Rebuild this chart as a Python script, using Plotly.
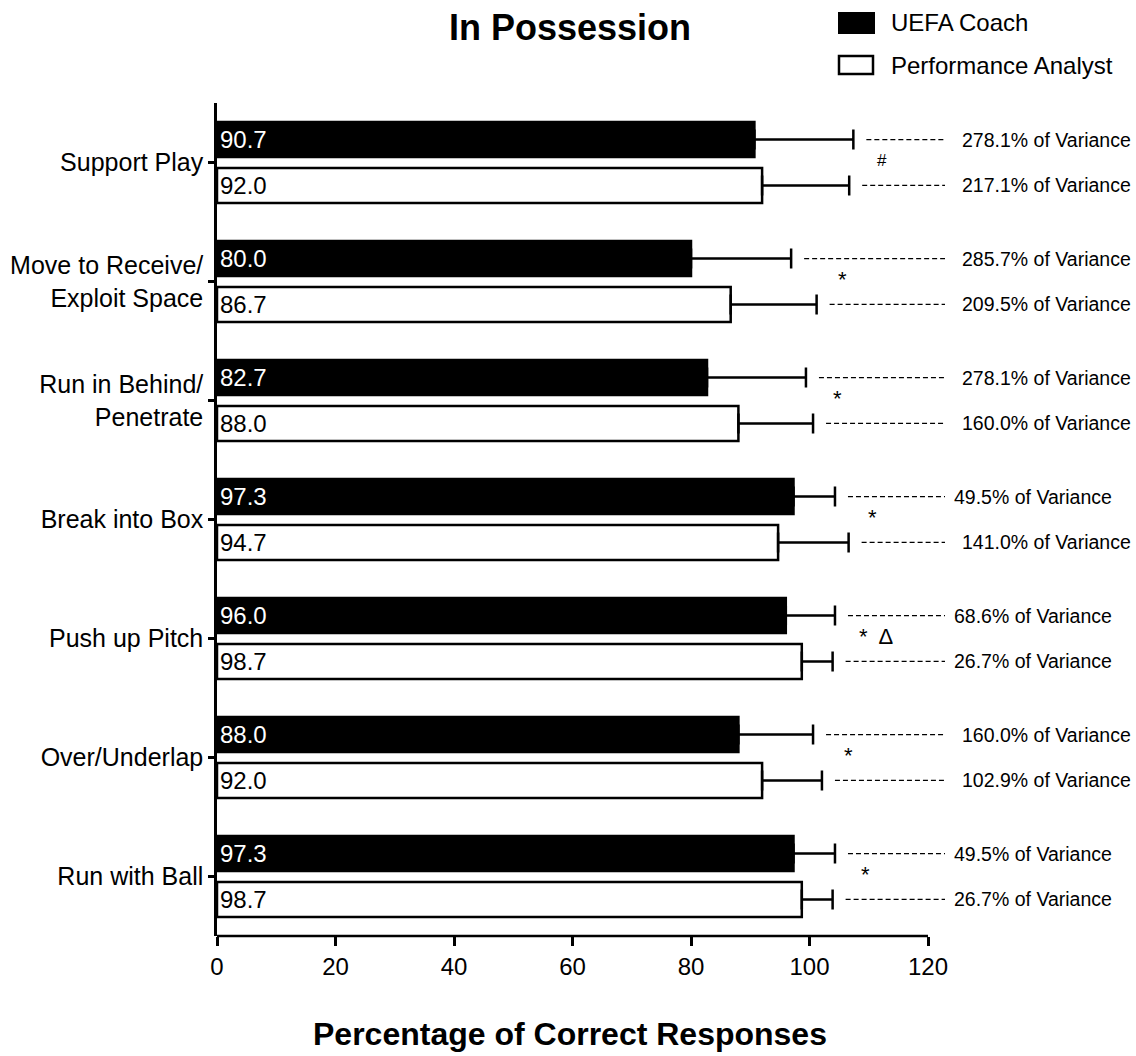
import plotly.graph_objects as go

# ---- data ----
categories = ["Support Play", "Move to Receive/<br>Exploit Space", "Run in Behind/<br>Penetrate",
              "Break into Box", "Push up Pitch", "Over/Underlap", "Run with Ball"]
coach = [90.7, 80.0, 82.7, 97.3, 96.0, 88.0, 97.3]
analyst = [92.0, 86.7, 88.0, 94.7, 98.7, 92.0, 98.7]
coach_err = [16.7, 16.9, 16.7, 7.0, 8.3, 12.6, 7.0]
analyst_err = [14.7, 14.5, 12.6, 11.9, 5.2, 10.1, 5.2]
coach_var = ["278.1", "285.7", "278.1", "49.5", "68.6", "160.0", "49.5"]
analyst_var = ["217.1", "209.5", "160.0", "141.0", "26.7", "102.9", "26.7"]
sig_marks = ["#", "*", "*", "*", "*  \u0394", "*", "*"]
x_ticks = [0, 20, 40, 60, 80, 100, 120]

# ---- geometry ----
W, H = 1136, 1056
ML, MR, MT, MB = 217, 0, 103, 120
PLOT_W = W - ML - MR
PLOT_H = H - MT - MB
PX_PER_UNIT = (928 - 217) / 120.0
X_MAX = PLOT_W / PX_PER_UNIT

BAR_W = 0.294
GAP = 0.092
FONT = "Liberation Sans, Arial, Helvetica, sans-serif"

def paper_x(px):
    return (px - ML) / PLOT_W

def paper_y(py):
    return (H - MB - py) / PLOT_H

ypos = list(range(len(categories)))

fig = go.Figure()

fig.add_trace(go.Bar(
    y=ypos, x=coach, orientation="h", name="UEFA Coach",
    width=BAR_W, offset=-(GAP / 2 + BAR_W),
    marker=dict(color="black", line=dict(color="black", width=2.5)),
    text=[f"{v:.1f}" for v in coach], textposition="inside", insidetextanchor="start",
    textfont=dict(color="white", size=24, family=FONT), constraintext="none",
    error_x=dict(type="data", symmetric=False, array=coach_err,
                 arrayminus=[0] * len(coach), color="black", thickness=2.5, width=10),
    showlegend=False,
))
fig.add_trace(go.Bar(
    y=ypos, x=analyst, orientation="h", name="Performance Analyst",
    width=BAR_W, offset=GAP / 2,
    marker=dict(color="white", line=dict(color="black", width=2.5)),
    text=[f"{v:.1f}" for v in analyst], textposition="inside", insidetextanchor="start",
    textfont=dict(color="black", size=24, family=FONT), constraintext="none",
    error_x=dict(type="data", symmetric=False, array=analyst_err,
                 arrayminus=[0] * len(analyst), color="black", thickness=2.5, width=10),
    showlegend=False,
))

shapes = []
annotations = []

# dashed leaders and variance labels
DASH_END = (945 - 217) / PX_PER_UNIT
LEADER_GAP = 13 / PX_PER_UNIT
for i in ypos:
    for val, err, var, yc in (
        (coach[i], coach_err[i], coach_var[i], i - GAP / 2 - BAR_W / 2),
        (analyst[i], analyst_err[i], analyst_var[i], i + GAP / 2 + BAR_W / 2),
    ):
        shapes.append(dict(type="line", xref="x", yref="y",
                           x0=val + err + LEADER_GAP, x1=DASH_END, y0=yc, y1=yc,
                           line=dict(color="black", width=1.3, dash="5px,3px")))
        label_x = (952 if len(var) == 4 else 960) - 217
        annotations.append(dict(x=label_x / PX_PER_UNIT, y=yc, xref="x", yref="y",
                                text=f"{var}% of Variance", showarrow=False,
                                xanchor="left", yanchor="middle",
                                font=dict(size=19.5, color="black", family=FONT)))

# significance markers between each pair of bars
sig_x = [111.1, 104.5, 103.7, 109.5, 108.0, 105.4, 108.4]
for i, mark in enumerate(sig_marks):
    annotations.append(dict(x=sig_x[i], y=i - 0.02, xref="x", yref="y",
                            text=mark, showarrow=False, xanchor="left", yanchor="middle",
                            font=dict(size=17 if mark == "#" else 22, color="black", family=FONT)))

# x axis baseline from 0 to 120
shapes.append(dict(type="line", xref="x", yref="paper", x0=0, x1=120, y0=0, y1=0,
                   line=dict(color="black", width=2.5)))

# legend
shapes.append(dict(type="rect", xref="paper", yref="paper",
                   x0=paper_x(839), x1=paper_x(874), y0=paper_y(33), y1=paper_y(13),
                   fillcolor="black", line=dict(color="black", width=2)))
shapes.append(dict(type="rect", xref="paper", yref="paper",
                   x0=paper_x(839), x1=paper_x(873), y0=paper_y(74), y1=paper_y(56),
                   fillcolor="white", line=dict(color="black", width=2.5)))
annotations.append(dict(x=paper_x(889), y=paper_y(22), xref="paper", yref="paper",
                        text="UEFA Coach", showarrow=False, xanchor="left", yanchor="middle",
                        font=dict(size=24, color="black", family=FONT)))
annotations.append(dict(x=paper_x(889), y=paper_y(65), xref="paper", yref="paper",
                        text="Performance Analyst", showarrow=False, xanchor="left", yanchor="middle",
                        font=dict(size=24, color="black", family=FONT)))

# titles
annotations.append(dict(x=paper_x(570), y=paper_y(28), xref="paper", yref="paper",
                        text="<b>In Possession</b>", showarrow=False,
                        xanchor="center", yanchor="middle",
                        font=dict(size=36, color="black", family=FONT)))
annotations.append(dict(x=paper_x(570), y=paper_y(1034), xref="paper", yref="paper",
                        text="<b>Percentage of Correct Responses</b>", showarrow=False,
                        xanchor="center", yanchor="middle",
                        font=dict(size=32, color="black", family=FONT)))

fig.update_layout(
    width=W, height=H,
    margin=dict(l=ML, r=MR, t=MT, b=MB, pad=0),
    paper_bgcolor="white", plot_bgcolor="white",
    shapes=shapes, annotations=annotations,
    font=dict(family=FONT, color="black"),
    xaxis=dict(range=[0, X_MAX], tickvals=x_ticks, ticktext=[str(t) for t in x_ticks],
               showgrid=False, zeroline=False, showline=False,
               ticks="outside", ticklen=9, tickwidth=2.5, tickcolor="black",
               tickfont=dict(size=24, family=FONT, color="black")),
    yaxis=dict(range=[len(categories) - 0.5, -0.5], tickvals=ypos, ticktext=categories,
               showgrid=False, zeroline=False, showline=True, linecolor="black", linewidth=2.5,
               ticks="outside", ticklen=6, tickwidth=2.5, tickcolor="black",
               tickfont=dict(size=25, family=FONT, color="black")),
)

fig.write_html("out.html")
